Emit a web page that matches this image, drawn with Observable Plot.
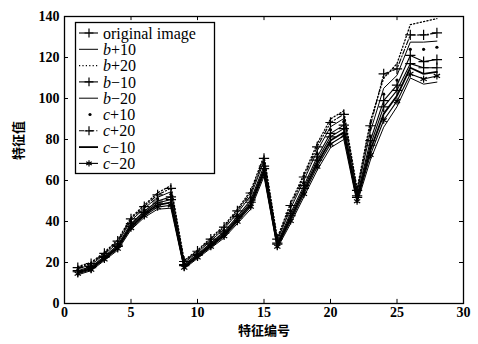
<!DOCTYPE html>
<html><head><meta charset="utf-8">
<script src="https://cdn.jsdelivr.net/npm/d3@7"></script>
<script src="https://cdn.jsdelivr.net/npm/@observablehq/plot@0.6"></script>
<style>body{margin:0;background:#fff;} #chart{width:478px;height:344px;}</style>
</head><body><div id="chart"></div>
<script>
const featureIds = [1,2,3,4,5,6,7,8,9,10,11,12,13,14,15,16,17,18,19,20,21,22,23,24,25,26,27,28];
const original = [16,18,23,28.5,39,45,50,52,19,24,29.5,35,42.5,50.5,67,29.5,44,57.5,71.5,83,87,52.5,79.5,99,106.5,121,118,119];
const bPlus10  = [16.9,18.9,23.9,29.6,40.4,46.4,51.8,54.5,19.9,24.9,30.6,36.4,44.1,52.6,69.3,30.6,46.3,60,74.5,86.2,90.2,54.1,83.9,105,111.3,127.5,127.5,128];
const bPlus20  = [18,20,25,31,42,48,54,57.5,21,26,32,38,46,55,72,32,49,63,78,90,94,56,89,110,117,136,137.5,139];
const bMinus10 = [15.5,17.5,22.5,27.9,38.3,44.3,49,50.7,18.5,23.5,28.9,34.3,41.7,49.4,65.8,28.9,42.8,56.2,69.9,81.3,85.3,51.7,77.2,95.9,104,117,115,115];
const bMinus20 = [14,16,21,26,36,42,46,46.5,17,22,27,32,39,46,62,27,39,52,65,76,80,49,70,86,96,110,107,108];
const cPlus10  = [16.5,18.5,23.5,29.1,39.7,45.7,51,53.3,19.5,24.5,30.1,35.7,43.3,51.6,68.2,30.1,45.2,58.8,73.1,84.7,88.7,53.3,81.8,102.1,109,124,124,125];
const cPlus20  = [17.5,19.5,24.5,30.4,41.3,47.3,53,56.2,20.5,25.5,31.4,37.3,45.2,53.9,70.8,31.4,47.8,61.7,76.4,88.3,92.3,55.2,86.7,112,114.5,131,131,132];
const cMinus10 = [15,17,22,27.3,37.5,43.5,48,49.3,18,23,28.3,33.5,40.8,48.3,64.5,28.3,41.5,54.8,68.3,79.5,83.5,50.8,74.8,92.5,101.3,115,112,113];
const cMinus20 = [14.5,16.5,21.5,26.7,36.8,42.8,47,47.9,17.5,22.5,27.7,32.8,39.9,47.2,63.3,27.7,40.3,53.4,66.7,77.8,81.8,49.9,72.5,89.4,98.7,112,109.5,111];

const seriesNames = ["original image","b+10","b+20","b-10","b-20","c+10","c+20","c-10","c-20"];
const seriesValues = [original,bPlus10,bPlus20,bMinus10,bMinus20,cPlus10,cPlus20,cMinus10,cMinus20];
const xTicks = [0,5,10,15,20,25,30];
const yTicks = [0,20,40,60,80,100,120,140];
const xLabel = "特征编号";
const yLabel = "特征值";

const styles = [
  {dash: "none", sw: 1.1, marker: "plus"},
  {dash: "none", sw: 1.0, marker: null},
  {dash: "1.2,2.2", sw: 1.3, marker: null},
  {dash: "none", sw: 1.1, marker: "plus"},
  {dash: "none", sw: 1.0, marker: null},
  {dash: null, sw: 1, marker: "dot"},
  {dash: "5,2,1.2,2", sw: 1.1, marker: "plus"},
  {dash: "none", sw: 1.8, marker: null},
  {dash: "none", sw: 1.1, marker: "asterisk"}
];

const marks = [];
seriesValues.forEach((vals, i) => {
  const data = featureIds.map((x, j) => ({x, y: vals[j]}));
  const s = styles[i];
  if (s.dash !== null) {
    marks.push(Plot.line(data, {x: "x", y: "y", stroke: "black", strokeWidth: s.sw, strokeDasharray: s.dash === "none" ? null : s.dash}));
  }
  if (s.marker === "dot") {
    marks.push(Plot.dot(data, {x: "x", y: "y", r: 1.6, fill: "black"}));
  } else if (s.marker) {
    marks.push(Plot.dot(data, {x: "x", y: "y", r: 3.4, symbol: s.marker, stroke: "black", strokeWidth: 1.2, fill: "none"}));
  }
});

const chart = Plot.plot({
  width: 478, height: 344,
  marginLeft: 64, marginRight: 15, marginTop: 16, marginBottom: 41,
  style: {fontFamily: "'Liberation Serif', serif", fontSize: "14px", background: "white", color: "black"},
  x: {domain: [0, 30], ticks: xTicks},
  y: {domain: [0, 140], ticks: yTicks},
  marks: [
    Plot.axisX(xTicks, {tickSize: 0, tickPadding: 4, fontWeight: "bold", fontSize: 14, label: null}),
    Plot.axisY(yTicks, {tickSize: 0, tickPadding: 5, fontWeight: "bold", fontSize: 14, label: null}),
    Plot.ruleX(xTicks, {x: d => d, y1: 0, y2: 2, stroke: "black"}),
    Plot.ruleX(xTicks, {x: d => d, y1: 140, y2: 138, stroke: "black"}),
    Plot.ruleY(yTicks, {y: d => d, x1: 0, x2: 0.3, stroke: "black"}),
    Plot.ruleY(yTicks, {y: d => d, x1: 30, x2: 29.7, stroke: "black"}),
    ...marks,
    Plot.frame({stroke: "black", strokeWidth: 1.3}),
    Plot.text([xLabel], {frameAnchor: "bottom", dy: 31, text: d => d, fontFamily: "'Noto Sans CJK SC'", fontWeight: "bold", fontSize: 13, fill: "black"}),
    Plot.text([yLabel], {frameAnchor: "left", dx: -46, rotate: -90, text: d => d, fontFamily: "'Noto Sans CJK SC'", fontWeight: "bold", fontSize: 13, fill: "black"})
  ]
});
document.getElementById("chart").appendChild(chart);

// Legend (inside plot, top-left)
const svg = d3.select(chart);
const lg = svg.append("g").attr("font-family", "'Liberation Serif', serif").attr("font-size", 16)
  .attr("fill", "black").attr("text-anchor", "start");
lg.append("rect").attr("x", 75.5).attr("y", 22.5).attr("width", 139).attr("height", 151)
  .attr("fill", "white").attr("stroke", "black").attr("stroke-width", 1.3);
seriesNames.forEach((name, i) => {
  const y = 33 + i * 16.3;
  const s = styles[i];
  if (s.dash !== null) {
    lg.append("line").attr("x1", 79).attr("x2", 98).attr("y1", y).attr("y2", y)
      .attr("stroke", "black").attr("stroke-width", s.sw)
      .attr("stroke-dasharray", s.dash === "none" ? null : s.dash);
  }
  if (s.marker === "dot") {
    lg.append("circle").attr("cx", 90).attr("cy", y).attr("r", 1.6).attr("fill", "black");
  } else if (s.marker) {
    const sym = s.marker === "plus" ? d3.symbolPlus : d3.symbolAsterisk;
    lg.append("path").attr("d", d3.symbol(sym, 28)()).attr("transform", `translate(89,${y})`)
      .attr("stroke", "black").attr("stroke-width", 1.2).attr("fill", "none");
  }
  const t = lg.append("text").attr("x", 103).attr("y", y).attr("dy", "0.35em").attr("text-anchor", "start");
  if (name === "original image") {
    t.text(name);
  } else {
    t.append("tspan").attr("font-style", "italic").text(name[0]);
    t.append("tspan").text(name.slice(1).replace("-", "\u2212"));
  }
});
</script>
</body></html>
